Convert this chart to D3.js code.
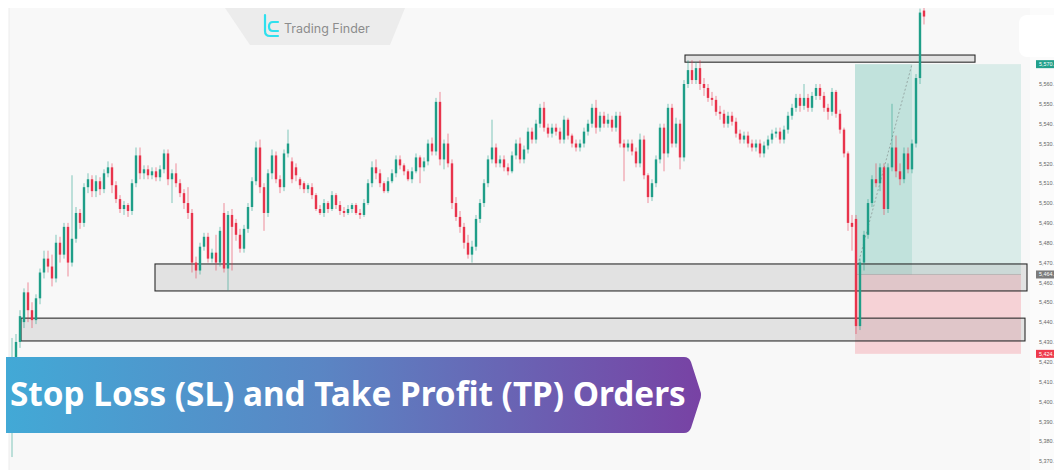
<!DOCTYPE html>
<html>
<head>
<meta charset="utf-8">
<script src="https://cdn.jsdelivr.net/npm/d3@7"></script>
<style>
  html, body { margin: 0; padding: 0; background: #fff; }
  svg { display: block; }
</style>
</head>
<body>
<svg id="chart" width="1054" height="470"></svg>
<script>
// candles (price units)
const opens = [
  5400,5410,5430,5440,5455,5446,5441,5452,5465,5472,
  5468,5462,5480,5474,5488,5470,5482,5495,5490,5508,
  5512,5506,5511,5507,5515,5518,5509,5502,5497,5499,
  5496,5510,5524,5515,5517,5514,5516,5513,5517,5525,
  5512,5515,5510,5505,5500,5495,5470,5466,5478,5483,
  5472,5475,5470,5495,5467,5494,5490,5484,5477,5487,
  5498,5511,5528,5508,5495,5515,5524,5512,5508,5525,
  5521,5518,5512,5510,5507,5508,5504,5497,5495,5500,
  5497,5504,5499,5496,5495,5497,5499,5495,5494,5500,
  5510,5518,5515,5510,5506,5511,5515,5522,5519,5516,
  5512,5516,5523,5518,5521,5530,5526,5551,5522,5530,
  5520,5500,5493,5488,5480,5474,5478,5492,5500,5510,
  5522,5528,5520,5522,5518,5516,5524,5530,5522,5527,
  5536,5532,5540,5548,5538,5535,5538,5536,5532,5542,
  5534,5530,5528,5530,5536,5540,5548,5538,5544,5540,
  5542,5538,5544,5530,5528,5530,5526,5520,5532,5514,
  5503,5510,5522,5538,5525,5548,5530,5540,5523,5560,
  5567,5562,5568,5560,5558,5553,5552,5546,5545,5540,
  5544,5541,5535,5532,5534,5530,5528,5530,5525,5529,
  5532,5535,5536,5532,5537,5544,5548,5553,5549,5553,
  5548,5554,5558,5554,5548,5546,5556,5545,5537,5525,
  5490,5492,5438,5470,5484,5500,5512,5510,5518,5497,
  5518,5528,5516,5512,5525,5517,5530,5563,5597
];
const highs = [
  5432,5434,5446,5457,5460,5450,5454,5467,5476,5476,
  5474,5484,5483,5490,5490,5514,5498,5497,5510,5515,
  5514,5514,5513,5517,5521,5520,5511,5504,5501,5500,
  5512,5528,5528,5519,5519,5518,5518,5519,5527,5527,
  5517,5520,5512,5507,5508,5497,5473,5480,5485,5485,
  5477,5484,5488,5500,5496,5497,5492,5487,5489,5500,
  5513,5531,5532,5510,5517,5527,5526,5514,5527,5537,
  5523,5520,5513,5511,5510,5510,5505,5499,5502,5501,
  5506,5505,5501,5498,5499,5500,5500,5497,5502,5512,
  5521,5522,5517,5511,5513,5517,5524,5524,5520,5517,
  5518,5525,5524,5523,5532,5533,5553,5556,5532,5535,
  5522,5503,5496,5490,5484,5481,5494,5502,5512,5524,
  5542,5530,5524,5524,5520,5526,5532,5533,5529,5538,
  5538,5542,5550,5551,5540,5540,5540,5538,5544,5543,
  5535,5532,5532,5538,5542,5550,5552,5546,5546,5545,
  5544,5546,5546,5532,5532,5532,5528,5535,5534,5515,
  5512,5524,5540,5540,5550,5550,5543,5542,5562,5572,
  5572,5571,5572,5563,5560,5556,5554,5549,5547,5546,
  5546,5543,5537,5536,5536,5532,5532,5532,5531,5534,
  5537,5538,5538,5539,5546,5550,5555,5555,5560,5555,
  5556,5560,5560,5556,5550,5558,5557,5547,5538,5526,
  5494,5494,5472,5486,5502,5514,5520,5520,5520,5520,
  5550,5534,5520,5528,5528,5532,5565,5598,5599
];
const lows = [
  5372,5405,5427,5437,5440,5437,5439,5449,5462,5465,
  5458,5460,5470,5472,5463,5468,5480,5487,5488,5505,
  5503,5503,5504,5505,5513,5505,5500,5495,5494,5493,
  5494,5508,5512,5512,5512,5512,5511,5511,5515,5509,
  5500,5508,5503,5497,5492,5465,5462,5464,5476,5470,
  5470,5466,5468,5465,5456,5466,5481,5475,5475,5485,
  5496,5509,5505,5486,5493,5512,5510,5505,5506,5523,
  5510,5511,5507,5505,5505,5502,5496,5494,5493,5495,
  5496,5497,5494,5493,5494,5495,5494,5492,5493,5499,
  5508,5512,5508,5505,5505,5510,5513,5517,5514,5511,
  5510,5515,5510,5516,5519,5524,5524,5519,5517,5518,
  5497,5491,5485,5477,5472,5470,5476,5490,5498,5508,
  5520,5518,5518,5516,5514,5515,5522,5520,5520,5525,
  5530,5530,5538,5536,5533,5533,5534,5530,5530,5532,
  5528,5526,5526,5528,5534,5538,5535,5536,5538,5538,
  5536,5536,5528,5511,5526,5524,5518,5518,5512,5500,
  5501,5508,5520,5516,5523,5528,5528,5517,5521,5558,
  5560,5560,5557,5554,5551,5549,5544,5542,5538,5538,
  5539,5533,5530,5530,5528,5526,5526,5523,5523,5527,
  5530,5533,5530,5530,5535,5542,5546,5546,5547,5546,
  5546,5552,5552,5546,5542,5544,5543,5535,5523,5486,
  5476,5434,5436,5466,5482,5498,5508,5506,5494,5495,
  5516,5513,5509,5510,5515,5515,5528,5560,5590
];
const closes = [
  5410,5430,5443,5455,5446,5441,5452,5465,5472,5468,
  5462,5480,5474,5488,5470,5482,5495,5490,5508,5512,
  5506,5511,5507,5515,5518,5509,5502,5497,5499,5496,
  5510,5524,5515,5517,5514,5516,5513,5517,5525,5512,
  5515,5510,5505,5500,5495,5470,5466,5478,5483,5472,
  5475,5470,5486,5467,5494,5488,5484,5477,5487,5498,
  5511,5528,5508,5495,5515,5524,5512,5508,5525,5530,
  5512,5514,5509,5507,5509,5504,5497,5495,5500,5497,
  5504,5499,5496,5495,5497,5499,5495,5494,5500,5510,
  5518,5515,5510,5506,5511,5515,5522,5519,5516,5512,
  5516,5523,5518,5521,5530,5526,5551,5522,5530,5520,
  5500,5493,5488,5480,5474,5478,5492,5500,5510,5522,
  5528,5520,5522,5518,5516,5524,5530,5522,5527,5536,
  5532,5540,5548,5538,5535,5538,5536,5532,5542,5534,
  5530,5528,5530,5536,5540,5548,5538,5544,5540,5542,
  5538,5544,5530,5528,5530,5526,5520,5532,5514,5503,
  5510,5522,5538,5525,5548,5530,5540,5523,5560,5567,
  5562,5568,5560,5558,5553,5552,5546,5545,5540,5544,
  5541,5535,5532,5534,5530,5528,5530,5525,5529,5532,
  5535,5536,5532,5537,5544,5548,5553,5549,5553,5548,
  5554,5558,5554,5548,5546,5556,5545,5537,5525,5490,
  5488,5438,5470,5484,5500,5512,5510,5518,5497,5518,
  5528,5516,5512,5525,5517,5530,5563,5596,5594
];

// zones: [startIndex, endIndex, lowPrice, highPrice]
const zoneStart = [168.25, 35.75, 2.25];
const zoneEnd   = [240.75, 253.75, 253.25];
const zoneLow   = [5571, 5455.7, 5430.5];
const zoneHigh  = [5574.6, 5469.3, 5442];

// long position tool
const posStart = 210.75, posHit = 225, posEnd = 252.25;
const posEntry = 5464, posTarget = 5570, posStop = 5424;

const axisTicks = d3.range(5370, 5561, 10);
const badgeValues = [5570, 5464, 5424];
const badgeColors = ["#22a08b", "#7b7b7b", "#ee3a4c"];

const title = "Stop Loss (SL) and Take Profit (TP) Orders";

const svg = d3.select("#chart");
const W = 1054, H = 470;

const x = d3.scaleLinear().domain([0, 228]).range([12, 924]);
const y = d3.scaleLinear().domain([5370, 5560]).range([461, 84]);

const up = "#1f9e88", down = "#e8344c";
// the price scale shows the values cut short on the right edge, e.g. "5,560."
const priceFmt = v => d3.format(",")(v) + ".";

const defs = svg.append("defs");
defs.append("clipPath").attr("id", "plotClip")
  .append("rect").attr("x", 9).attr("y", 8).attr("width", 1021).attr("height", H - 8);

const grad = defs.append("linearGradient").attr("id", "bannerGrad")
  .attr("x1", "0%").attr("x2", "100%").attr("y1", "0%").attr("y2", "0%");
grad.append("stop").attr("offset", "0%").attr("stop-color", "#42a9d6");
grad.append("stop").attr("offset", "45%").attr("stop-color", "#5a86c4");
grad.append("stop").attr("offset", "100%").attr("stop-color", "#7842a4");

// background
svg.append("rect").attr("width", W).attr("height", H).attr("fill", "#ffffff");
svg.append("rect").attr("x", 9).attr("y", 8).attr("width", 1021).attr("height", H - 8).attr("fill", "#f8f8f8");
svg.append("rect").attr("x", 1030).attr("y", 8).attr("width", 24).attr("height", H - 8).attr("fill", "#fbfbfb");
svg.append("line").attr("x1", 9).attr("x2", 9).attr("y1", 8).attr("y2", H).attr("stroke", "#ececec");

// white card top right
svg.append("rect").attr("x", 1019).attr("y", 15).attr("width", 50).attr("height", 42).attr("rx", 8)
  .attr("fill", "#ffffff");

// logo tab
svg.append("path").attr("d", "M225,8 L405,8 L390,45 L250,45 Z").attr("fill", "#ececec");
const logo = svg.append("g").attr("fill", "none").attr("stroke", "#2fe0ee").attr("stroke-width", 2.2)
  .attr("stroke-linecap", "round").attr("stroke-linejoin", "round");
logo.append("path").attr("d", "M265,15 L265,31 Q265,36 270,36 L278,36");
logo.append("path").attr("d", "M278,22 L273,22 Q269,22 269,26.5 Q269,31 273,31 L278,31");
svg.append("text").attr("x", 284).attr("y", 33).attr("font-family", "Inter, 'DejaVu Sans', sans-serif")
  .attr("font-size", 12.5).attr("fill", "#8c8c8c").text("Trading Finder");

const plot = svg.append("g").attr("clip-path", "url(#plotClip)");

// position tool
const px0 = x(posStart), px1 = x(posEnd), pxHit = x(posHit);
plot.append("rect").attr("x", px0).attr("y", y(posTarget)).attr("width", px1 - px0)
  .attr("height", y(posEntry) - y(posTarget)).attr("fill", "rgba(34,160,139,0.14)");
plot.append("rect").attr("x", px0).attr("y", y(posTarget)).attr("width", pxHit - px0)
  .attr("height", y(posEntry) - y(posTarget)).attr("fill", "rgba(34,160,139,0.13)");
plot.append("rect").attr("x", px0).attr("y", y(posEntry)).attr("width", px1 - px0)
  .attr("height", y(posStop) - y(posEntry)).attr("fill", "rgba(240,60,80,0.2)");
plot.append("line").attr("x1", px0).attr("x2", px1).attr("y1", y(posEntry)).attr("y2", y(posEntry))
  .attr("stroke", "rgba(120,120,120,0.35)").attr("stroke-width", 1);
plot.append("line").attr("x1", x(211.5)).attr("y1", y(posEntry) - 10).attr("x2", pxHit).attr("y2", y(posTarget))
  .attr("stroke", "#8d9b98").attr("stroke-width", 0.8).attr("stroke-dasharray", "2,2");

// zones
zoneStart.forEach((s, i) => {
  plot.append("rect")
    .attr("x", x(s)).attr("y", y(zoneHigh[i]))
    .attr("width", x(zoneEnd[i]) - x(s)).attr("height", y(zoneLow[i]) - y(zoneHigh[i]))
    .attr("fill", "rgba(170,170,170,0.28)").attr("stroke", "#2b2b2b").attr("stroke-width", 1.1);
});

// candles
const candles = closes.map((c, i) => ({ i, o: opens[i], h: highs[i], l: lows[i], c }));
const cg = plot.append("g");
cg.selectAll("line.wick").data(candles).join("line").attr("class", "wick")
  .attr("x1", d => x(d.i)).attr("x2", d => x(d.i))
  .attr("y1", d => y(d.h)).attr("y2", d => y(d.l))
  .attr("stroke", d => d.c >= d.o ? up : down).attr("stroke-opacity", 0.55).attr("stroke-width", 1);
cg.selectAll("rect.body").data(candles).join("rect").attr("class", "body")
  .attr("x", d => x(d.i) - 1.2).attr("width", 2.4)
  .attr("y", d => y(Math.max(d.o, d.c)))
  .attr("height", d => Math.max(1, Math.abs(y(d.o) - y(d.c))))
  .attr("fill", d => d.c >= d.o ? up : down);

// price axis
const axis = svg.append("g").attr("transform", "translate(1036,0)")
  .call(d3.axisRight(y).tickValues(axisTicks).tickSize(0).tickPadding(3).tickFormat(priceFmt));
axis.select(".domain").remove();
axis.selectAll("text").attr("font-family", "'Liberation Sans', Arial, sans-serif").attr("font-size", 5.4).attr("fill", "#666");

badgeValues.forEach((v, i) => {
  const g = svg.append("g").attr("transform", `translate(1036,${y(v)})`);
  g.append("rect").attr("x", 0).attr("y", -4).attr("width", 18).attr("height", 8).attr("fill", badgeColors[i]);
  g.append("text").attr("x", 3).attr("y", 2).attr("font-family", "'Liberation Sans', Arial, sans-serif")
    .attr("font-size", 5.4).attr("fill", "#fff").text(priceFmt(v));
});

// title banner
svg.append("path")
  .attr("d", "M6,357 L684,357 Q689,357 691,362 L700,390 Q702,395 700,400 L691,428 Q689,433 684,433 L6,433 Z")
  .attr("fill", "url(#bannerGrad)");
const t = svg.append("text").attr("x", 10).attr("y", 406)
  .attr("font-family", "'Noto Sans', 'Open Sans', sans-serif").attr("font-weight", 700)
  .attr("font-size", 33).attr("fill", "#ffffff").text(title);
const tw = t.node().getComputedTextLength();
t.attr("font-size", 33 * 676 / tw);
</script>
</body>
</html>
